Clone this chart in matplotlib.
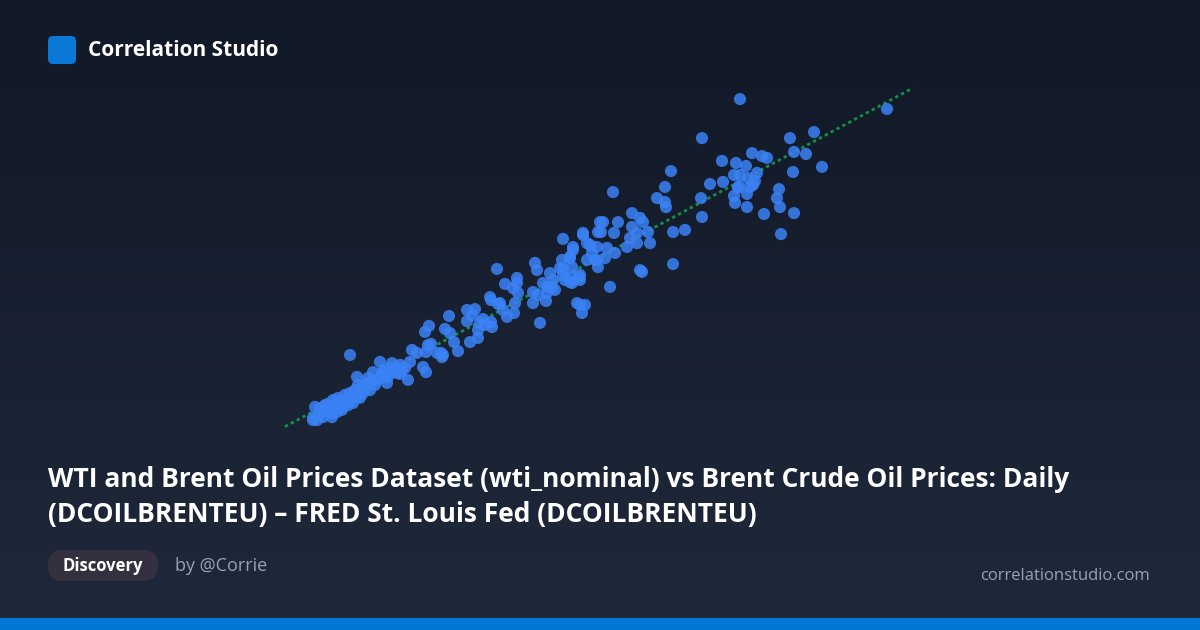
import numpy as np
import matplotlib
matplotlib.use("Agg")
import matplotlib.pyplot as plt
from matplotlib.patches import FancyBboxPatch

# WTI (x) vs Brent (y), USD/bbl
wti = [
    12.6, 13.0, 12.6, 13.4, 14.0, 14.6, 15.4, 16.4, 16.4, 16.6, 16.6, 17.4, 18.0, 18.6,
    19.4, 20.0, 20.6, 21.4, 22.0, 22.6, 22.6, 23.4, 24.0, 24.4, 24.6, 25.4, 26.0, 26.4,
    27.4, 27.6, 28.4, 28.6, 29.4, 30.0, 30.4, 31.6, 21.4, 20.0, 26.0, 32.0, 32.4, 33.4,
    34.6, 35.2, 35.6, 37.4, 15.0, 17.6, 19.0, 21.0, 21.6, 23.2, 25.0, 27.0, 28.0, 29.2,
    31.0, 14.0, 15.6, 18.4, 19.6, 17.0, 20.4, 23.6, 26.8, 30.0,
    35.8, 35.0, 36.2, 35.2, 39.8, 39.0, 40.0, 40.8, 41.6, 38.2, 38.6, 38.4, 44.0, 45.6,
    43.4, 45.0, 44.4, 43.4, 46.0, 46.6, 48.2, 47.0, 45.6, 48.4, 48.0, 48.2, 49.6, 50.6,
    50.0, 49.4, 51.0, 53.4, 53.4, 52.6, 53.6, 53.0, 51.4, 52.8, 57.0, 57.4, 56.6, 56.6,
    58.6, 60.0, 60.4, 59.4, 59.2, 61.0, 58.0, 57.6, 62.6, 64.0, 62.6, 62.4, 62.6, 64.0,
    64.6, 64.2, 63.0, 64.4, 65.8, 66.0, 67.0, 66.4, 65.4, 66.6, 67.4, 68.4, 69.0, 69.6,
    70.0, 64.6, 68.0, 69.4, 71.4, 73.0, 75.4, 76.0, 77.4, 77.4, 80.0, 71.0, 69.4, 67.4,
    64.0, 62.0, 64.4, 69.6, 60.6, 66.0, 66.0, 59.4, 72.6, 83.0, 81.4, 83.0, 83.2, 76.4,
    78.0, 78.6, 70.6, 73.6, 70.2, 72.8, 76.4, 79.6, 84.6, 66.6, 78.0, 78.4, 72.0, 84.6,
    98.0, 90.4, 108.0, 112.8, 108.8, 111.2, 100.4, 102.4, 103.4, 94.4, 97.2, 99.2, 84.2,
    96.8, 98.0, 101.4, 99.6, 101.0, 100.6, 100.0, 97.8, 97.6, 108.6, 114.4, 92.0, 94.6,
    96.8, 99.4, 97.0, 90.2, 105.8, 105.4, 106.0, 99.4, 102.8, 108.8, 90.4, 87.0, 106.2,
    127.4,
]
brent = [
    13.3, 17.7, 14.0, 13.3, 17.3, 14.3, 16.7, 14.3, 15.7, 16.7, 20.0, 16.0, 19.0, 17.7,
    20.0, 22.3, 19.0, 21.0, 20.7, 22.3, 24.3, 25.7, 23.3, 26.0, 29.3, 26.7, 27.3, 29.0,
    25.7, 27.7, 32.3, 29.3, 29.0, 31.7, 30.0, 26.7, 27.7, 35.0, 32.7, 32.7, 36.7, 35.7,
    31.0, 29.3, 38.3, 35.7, 18.3, 20.7, 21.7, 23.3, 25.0, 24.0, 25.0, 28.0, 30.7, 30.7,
    30.7, 15.3, 18.7, 16.7, 18.3, 18.3, 20.7, 27.3, 30.0, 28.7,
    44.7, 42.7, 38.7, 36.0, 48.0, 43.7, 42.3, 39.3, 36.3, 35.7, 35.0, 34.3, 39.3, 40.7,
    50.0, 50.3, 48.3, 46.3, 45.7, 47.0, 46.0, 45.0, 43.3, 44.3, 54.3, 53.3, 52.0, 50.0,
    52.3, 63.7, 58.7, 60.7, 59.0, 57.3, 55.7, 52.3, 47.7, 49.0, 65.7, 63.3, 56.0, 52.3,
    59.0, 62.3, 57.7, 55.7, 53.0, 56.7, 45.7, 55.0, 61.7, 59.3, 73.7, 66.7, 63.7, 67.7,
    71.0, 61.0, 60.0, 59.0, 61.0, 51.7, 51.7, 49.0, 52.3, 75.7, 72.3, 69.0, 66.7, 76.0,
    79.3, 70.0, 71.7, 71.0, 70.7, 69.0, 71.0, 74.0, 75.7, 72.3, 72.3, 67.3, 66.7, 66.7,
    67.3, 64.0, 64.3, 64.3, 60.0, 61.7, 60.0, 57.7, 89.3, 91.0, 87.3, 86.0, 84.3, 82.3,
    80.7, 79.3, 79.3, 79.3, 76.0, 75.7, 77.7, 76.0, 76.0, 75.0, 63.3, 62.7, 57.7, 65.3,
    120.3, 107.3, 107.3, 109.3, 102.7, 102.0, 102.3, 101.3, 100.7, 99.7, 99.0, 98.0, 96.3,
    95.0, 95.0, 95.7, 94.0, 93.0, 91.7, 91.0, 91.3, 90.7, 96.0, 97.7, 92.0, 92.7,
    88.0, 88.7, 85.7, 87.3, 90.3, 87.3, 84.3, 84.3, 82.0, 82.3, 81.0, 76.7, 75.3,
    117.0,
]

title = ("WTI and Brent Oil Prices Dataset (wti_nominal) vs Brent Crude Oil Prices: Daily\n"
         "(DCOILBRENTEU) \u2013 FRED St. Louis Fed (DCOILBRENTEU)")
brand = "Correlation Studio"
tag = "Discovery"
author = "by @Corrie"
site = "correlationstudio.com"

W, H = 1200, 630
FONT = ["Open Sans", "DejaVu Sans"]


def px_box(x0, y0, x1, y1):
    """figure-fraction rect from pixel box (top-left origin)"""
    return [x0 / W, 1 - y1 / H, (x1 - x0) / W, (y1 - y0) / H]


fig = plt.figure(figsize=(W / 100, H / 100), dpi=100)

# background gradient
bg = fig.add_axes([0, 0, 1, 1])
grad = np.linspace(0, 1, 256).reshape(-1, 1)
top = np.array([17, 24, 39]) / 255
bot = np.array([31, 41, 59]) / 255
img = top + (bot - top) * grad[:, :, None]
bg.imshow(img, aspect="auto", extent=[0, W, H, 0])
bg.set_xlim(0, W)
bg.set_ylim(H, 0)
bg.axis("off")

# logo + brand
bg.add_patch(FancyBboxPatch((48, 36), 28, 28, boxstyle="round,pad=0,rounding_size=5",
                            fc="#0a78d6", ec="none"))
bg.text(88, 51, brand, color="white", fontsize=15, fontweight="bold",
        family=FONT, va="center", ha="left")

# title
bg.text(48, 497, title, color="white", fontsize=19, fontweight="bold",
        family=FONT, va="center", ha="left", linespacing=1.4)

# footer
bg.add_patch(FancyBboxPatch((48, 550), 110, 31, boxstyle="round,pad=0,rounding_size=15",
                            fc="#35303f", ec="none"))
bg.text(103, 566, tag, color="white", fontsize=12, fontweight="bold",
        family=FONT, va="center", ha="center")
bg.text(175, 566, author, color="#94a3b8", fontsize=13, family=FONT,
        va="center", ha="left")
bg.text(1150, 576, site, color="#94a3b8", fontsize=12, family=FONT,
        va="center", ha="right")
bg.add_patch(plt.Rectangle((0, 618), W, 12, fc="#0078d4", ec="none"))

# scatter
ax = fig.add_axes(px_box(280, 80, 920, 440))
ax.set_facecolor("none")
x = np.array(wti)
y = np.array(brent)
ax.scatter(x, y, s=76, color="#3b82f6", alpha=0.85, edgecolors="none", zorder=3)

# least-squares trend, drawn a little past the data on both ends
k, b = np.polyfit(x, y, 1)
xs = np.array([x.min() - 5.6, x.max() + 5.2])
ax.plot(xs, k * xs + b, color="#16a34a", lw=2, ls=(0, (1.2, 1.2)), alpha=0.85, zorder=2)

ax.set_xlim(6, 134)
ax.set_ylim(6.667, 126.667)
ax.axis("off")

fig.savefig("out.png", dpi=100, facecolor=fig.get_facecolor())
